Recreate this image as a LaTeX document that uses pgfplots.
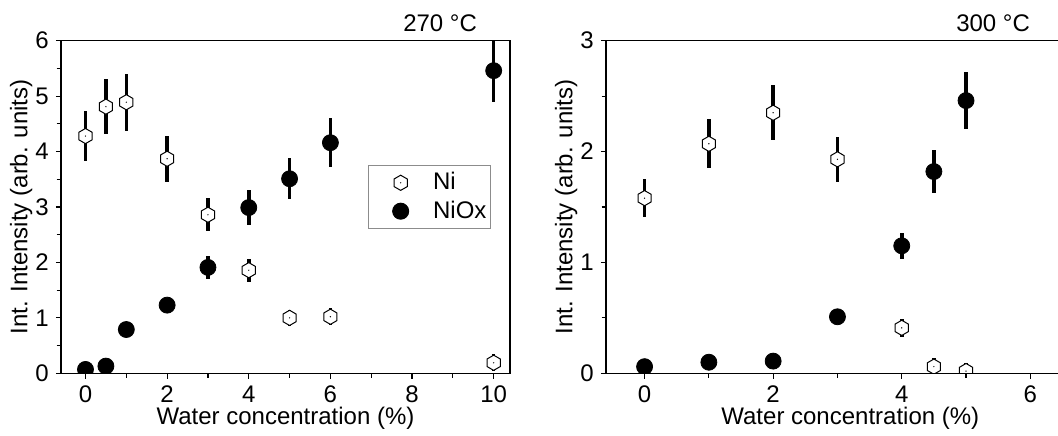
\documentclass[border=0pt]{standalone}
\usepackage{fontspec}
\setmainfont{Liberation Sans}
\usepackage{pgfplots}
\pgfplotsset{compat=1.18}

% pointy-top hexagon with a small dot in the middle
\pgfdeclareplotmark{hexa}{%
  \pgfpathmoveto{\pgfqpointpolar{90}{\pgfplotmarksize}}%
  \pgfpathlineto{\pgfqpointpolar{150}{\pgfplotmarksize}}%
  \pgfpathlineto{\pgfqpointpolar{210}{\pgfplotmarksize}}%
  \pgfpathlineto{\pgfqpointpolar{270}{\pgfplotmarksize}}%
  \pgfpathlineto{\pgfqpointpolar{330}{\pgfplotmarksize}}%
  \pgfpathlineto{\pgfqpointpolar{30}{\pgfplotmarksize}}%
  \pgfpathclose
  \pgfusepathqfillstroke
  \begin{pgfscope}%
    \pgfsetfillcolor{black}%
    \pgfpathcircle{\pgfpointorigin}{0.35pt}%
    \pgfusepathqfill
  \end{pgfscope}%
}

\pgfplotsset{
  panel/.style={
    scale only axis,
    height=166.3pt,
    ymin=0,
    font=\fontsize{12}{14}\selectfont,
    /pgf/number format/assume math mode=true,
    tick align=outside,
    tick pos=left,
    major tick length=2.6pt,
    minor tick length=2.2pt,
    minor x tick num=1,
    minor y tick num=1,
    axis line style={line width=0.6pt},
    every tick/.style={black, line width=0.6pt},
    ylabel={Int. Intensity (arb. units)},
    xlabel={Water concentration (\%)},
    xlabel shift=-4.5pt,
    ylabel shift=-5.3pt,
    clip marker paths=true,
    axis on top,
  },
  ni/.style={
    only marks, mark=hexa, mark size=3.8pt,
    mark options={fill=white, draw=black, line width=0.5pt},
    error bars/.cd, y dir=both, y explicit, error mark=none,
    error bar style={line width=1.8pt, black},
  },
  niox/.style={
    only marks, mark=*, mark size=4pt,
    mark options={fill=black, draw=black},
    error bars/.cd, y dir=both, y explicit, error mark=none,
    error bar style={line width=1.8pt, black},
  },
}

\begin{document}
\begin{tikzpicture}
\begin{axis}[
  panel,
  name=left,
  at={(0pt,0pt)}, anchor=south west,
  width=224.5pt,
  xmin=-0.6, xmax=10.4,
  ymax=6,
  xtick={0,2,4,6,8,10},
  ytick={0,1,2,3,4,5,6},
  legend style={at={(0.683,0.626)}, anchor=north west,
    draw=black!45, line width=0.5pt,
    font=\fontsize{12}{14}\selectfont,
    row sep=0pt, column sep=0pt, inner xsep=0pt, inner ysep=1.5pt},
  legend cell align=left,
  legend image code/.code={%
    \path (-16pt,-4pt) (14pt,4pt);
    \draw[#1] plot coordinates {(0pt,0pt)};},
]
\addplot+[ni] coordinates {
  (0,4.28) +- (0,0.45)
  (0.5,4.81) +- (0,0.50)
  (1,4.89) +- (0,0.51)
  (2,3.87) +- (0,0.42)
  (3,2.86) +- (0,0.30)
  (4,1.86) +- (0,0.21)
  (5,1.00) +- (0,0.15)
  (6,1.02) +- (0,0.15)
  (10,0.19) +- (0,0.15)
};
\addlegendentry{Ni}
\addplot+[niox] coordinates {
  (0,0.07) +- (0,0.04)
  (0.5,0.13) +- (0,0.05)
  (1,0.79) +- (0,0.10)
  (2,1.23) +- (0,0.10)
  (3,1.91) +- (0,0.21)
  (4,2.99) +- (0,0.32)
  (5,3.51) +- (0,0.37)
  (6,4.16) +- (0,0.44)
  (10,5.46) +- (0,0.56)
};
\addlegendentry{NiOx}
\coordinate (t1) at (axis cs:9.6,6);
\end{axis}

\begin{axis}[
  panel,
  name=right,
  at={(272.5pt,0pt)}, anchor=south west,
  width=244.3pt,
  xmin=-0.6, xmax=7,
  ymax=3,
  xtick={0,2,4,6},
  ytick={0,1,2,3},
]
\addplot+[ni] coordinates {
  (0,1.58) +- (0,0.17)
  (1,2.07) +- (0,0.22)
  (2,2.35) +- (0,0.25)
  (3,1.93) +- (0,0.20)
  (4,0.41) +- (0,0.08)
  (4.5,0.06) +- (0,0.08)
  (5,0.02) +- (0,0.07)
};
\addplot+[niox] coordinates {
  (0,0.06) +- (0,0.03)
  (1,0.10) +- (0,0.04)
  (2,0.11) +- (0,0.05)
  (3,0.51) +- (0,0.05)
  (4,1.15) +- (0,0.12)
  (4.5,1.82) +- (0,0.19)
  (5,2.46) +- (0,0.26)
};
\coordinate (t2) at (axis cs:6,3);
\end{axis}
\node[anchor=base east, inner sep=0pt, yshift=4.6pt, font=\fontsize{12}{14}\selectfont] at (t1) {270 °C};
\node[anchor=base east, inner sep=0pt, yshift=4.6pt, font=\fontsize{12}{14}\selectfont] at (t2) {300 °C};
\pgfresetboundingbox
\path[use as bounding box] (-30.5pt,-30.85pt) rectangle (498.5pt,186.65pt);
\end{tikzpicture}
\end{document}
